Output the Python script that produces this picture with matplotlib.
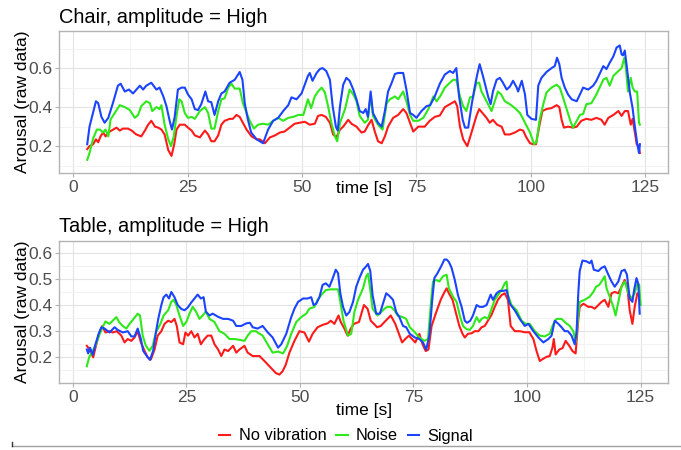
import matplotlib
matplotlib.use("Agg")
import matplotlib.pyplot as plt
from matplotlib.lines import Line2D
from matplotlib.ticker import MultipleLocator, FixedLocator

plt.rcParams["font.family"] = ["Liberation Sans", "DejaVu Sans"]

# ---- Chair panel ----
chair_t_none = [3.1, 3.6, 4.4, 5.0, 5.5, 6.0, 6.6, 7.1, 7.7, 8.4, 9.5, 10.2, 10.9, 12.0, 12.8, 13.8, 14.9, 15.7,
                16.4, 17.1, 17.9, 18.6, 19.3, 20.0, 20.8, 21.5, 22.1, 22.6, 23.3, 24.4, 25.1, 25.9, 26.6, 27.7,
                28.8, 29.5, 30.2, 30.9, 31.7, 32.4, 33.1, 34.2, 34.9, 35.7, 36.4, 37.1, 37.9, 39.0, 40.1, 40.8,
                41.9, 43.0, 44.1, 45.2, 46.2, 47.3, 48.4, 49.5, 50.6, 51.7, 52.8, 53.5, 54.3, 55.2, 56.1, 56.8,
                57.5, 58.3, 59.0, 60.1, 60.8, 61.9, 63.0, 63.7, 64.5, 65.2, 65.9, 66.6, 67.4, 68.1, 68.8, 69.9,
                71.0, 72.1, 72.8, 73.6, 74.3, 75.4, 76.8, 77.9, 79.0, 80.1, 81.2, 82.3, 83.4, 83.9, 84.5, 85.2,
                86.1, 86.7, 87.4, 88.1, 88.7, 89.4, 90.3, 91.0, 91.7, 92.6, 93.6, 94.3, 95.4, 96.5, 97.6, 98.3,
                99.0, 99.8, 100.5, 101.1, 101.8, 102.5, 103.4, 104.5, 105.6, 106.2, 106.7, 107.2, 108.1, 109.2,
                110.0, 111.0, 112.1, 113.2, 114.3, 115.4, 116.1, 116.9, 118.0, 119.1, 119.8, 120.5, 121.2, 121.8,
                122.2, 122.7, 123.1, 123.5, 123.8]
chair_v_none = [0.185, 0.20, 0.21, 0.235, 0.22, 0.25, 0.27, 0.25, 0.27, 0.28, 0.295, 0.28, 0.29, 0.29, 0.28, 0.26,
                0.25, 0.28, 0.31, 0.33, 0.30, 0.295, 0.285, 0.26, 0.18, 0.15, 0.21, 0.285, 0.31, 0.31, 0.295, 0.28,
                0.255, 0.245, 0.28, 0.26, 0.225, 0.225, 0.255, 0.31, 0.33, 0.34, 0.34, 0.36, 0.35, 0.32, 0.285,
                0.25, 0.235, 0.235, 0.215, 0.245, 0.255, 0.27, 0.275, 0.295, 0.315, 0.32, 0.325, 0.31, 0.315,
                0.355, 0.36, 0.35, 0.32, 0.26, 0.245, 0.285, 0.30, 0.335, 0.315, 0.30, 0.27, 0.275, 0.31, 0.335,
                0.275, 0.225, 0.215, 0.25, 0.30, 0.345, 0.36, 0.39, 0.37, 0.32, 0.275, 0.30, 0.30, 0.33, 0.35,
                0.357, 0.40, 0.415, 0.43, 0.405, 0.30, 0.235, 0.20, 0.245, 0.30, 0.355, 0.39, 0.37, 0.345, 0.32,
                0.335, 0.31, 0.30, 0.26, 0.26, 0.27, 0.285, 0.28, 0.245, 0.215, 0.21, 0.21, 0.30, 0.38, 0.39,
                0.395, 0.41, 0.40, 0.335, 0.295, 0.30, 0.295, 0.30, 0.33, 0.34, 0.335, 0.345, 0.335, 0.31, 0.345,
                0.36, 0.38, 0.355, 0.38, 0.38, 0.31, 0.34, 0.27, 0.21, 0.20, 0.165]

chair_t_noise = [3.1, 3.6, 4.4, 5.2, 5.9, 6.5, 7.1, 7.7, 8.2, 9.1, 10.2, 11.3, 12.4, 13.5, 14.2, 14.9, 16.0, 16.8,
                 17.3, 18.2, 18.9, 19.3, 20.0, 20.8, 21.4, 22.0, 22.6, 23.2, 23.7, 24.4, 25.1, 25.9, 26.6, 27.7,
                 28.8, 29.5, 30.2, 30.9, 31.7, 32.4, 33.1, 33.9, 34.6, 35.3, 36.4, 37.1, 37.9, 38.6, 39.5, 40.4,
                 41.5, 42.6, 43.7, 44.8, 45.9, 47.0, 48.1, 49.2, 50.3, 51.3, 52.0, 52.8, 53.5, 54.3, 55.0, 55.7,
                 56.4, 57.2, 57.7, 58.3, 59.4, 60.4, 61.2, 61.9, 62.6, 63.7, 64.4, 65.0, 65.5, 66.6, 67.6, 68.5,
                 69.2, 70.3, 71.0, 72.1, 72.8, 73.6, 74.3, 75.4, 76.5, 77.6, 78.7, 79.4, 80.3, 81.2, 82.3, 83.0,
                 83.7, 84.5, 85.2, 85.9, 86.7, 87.4, 88.1, 88.7, 89.2, 90.3, 91.4, 92.1, 92.8, 93.5, 94.3, 95.4,
                 96.5, 97.6, 98.7, 99.8, 100.7, 101.2, 101.9, 102.7, 103.4, 104.5, 105.6, 106.3, 107.0, 107.8,
                 108.6, 109.2, 110.0, 110.7, 111.4, 112.1, 113.2, 114.3, 115.0, 115.8, 116.5, 117.2, 118.0, 119.1,
                 119.8, 120.4, 120.7, 121.2, 121.8, 122.2, 122.7, 123.2, 123.6, 123.8]
chair_v_noise = [0.13, 0.165, 0.24, 0.285, 0.285, 0.27, 0.285, 0.25, 0.337, 0.37, 0.41, 0.40, 0.385, 0.345, 0.36,
                 0.405, 0.43, 0.42, 0.38, 0.40, 0.39, 0.41, 0.31, 0.235, 0.20, 0.25, 0.355, 0.44, 0.43, 0.37, 0.345,
                 0.35, 0.34, 0.38, 0.40, 0.37, 0.29, 0.29, 0.38, 0.44, 0.445, 0.50, 0.52, 0.495, 0.495, 0.42, 0.37,
                 0.33, 0.29, 0.31, 0.315, 0.31, 0.33, 0.345, 0.33, 0.345, 0.35, 0.36, 0.36, 0.44, 0.395, 0.455,
                 0.48, 0.50, 0.475, 0.405, 0.32, 0.25, 0.225, 0.32, 0.39, 0.49, 0.465, 0.43, 0.355, 0.32, 0.335,
                 0.465, 0.355, 0.31, 0.285, 0.42, 0.44, 0.455, 0.44, 0.48, 0.43, 0.36, 0.33, 0.33, 0.345, 0.39,
                 0.455, 0.43, 0.46, 0.50, 0.525, 0.54, 0.54, 0.455, 0.405, 0.38, 0.45, 0.455, 0.525, 0.525, 0.48,
                 0.43, 0.38, 0.43, 0.48, 0.465, 0.43, 0.415, 0.395, 0.37, 0.32, 0.27, 0.21, 0.22, 0.335, 0.415,
                 0.475, 0.50, 0.515, 0.50, 0.45, 0.39, 0.33, 0.295, 0.33, 0.36, 0.365, 0.415, 0.42, 0.465, 0.50,
                 0.54, 0.55, 0.51, 0.56, 0.585, 0.60, 0.653, 0.61, 0.48, 0.55, 0.50, 0.48, 0.48, 0.32, 0.31]

chair_t_signal = [3.1, 3.6, 5.0, 5.5, 6.2, 6.9, 7.7, 8.7, 9.8, 10.4, 11.3, 12.2, 13.1, 14.6, 15.3, 16.0, 17.1, 18.2,
                  18.9, 19.7, 20.4, 21.1, 21.6, 22.2, 22.9, 23.7, 24.4, 25.1, 25.9, 26.6, 27.3, 28.0, 28.9, 29.5,
                  30.2, 30.9, 31.7, 32.4, 33.1, 34.2, 35.3, 36.4, 37.0, 37.5, 38.2, 38.9, 40.1, 41.5, 42.6, 43.7,
                  44.8, 45.9, 47.0, 47.7, 48.8, 49.9, 50.6, 51.3, 51.7, 52.3, 53.2, 53.9, 54.5, 55.3, 56.1, 56.7,
                  57.4, 57.8, 58.3, 59.0, 59.7, 60.4, 61.2, 61.9, 62.6, 63.4, 63.9, 64.4, 65.0, 65.5, 66.6, 67.4,
                  68.1, 68.8, 69.6, 70.3, 71.0, 72.1, 72.8, 73.6, 74.3, 75.0, 76.1, 77.2, 78.0, 79.0, 80.1, 81.2,
                  82.3, 83.0, 83.7, 84.3, 85.1, 85.6, 86.3, 87.0, 87.7, 88.3, 88.8, 89.4, 89.9, 90.7, 91.2, 91.7,
                  92.5, 93.2, 93.9, 94.7, 95.4, 96.1, 96.9, 97.2, 98.0, 98.7, 99.2, 100.1, 101.1, 101.6, 102.3,
                  103.4, 104.5, 105.2, 105.7, 106.2, 106.7, 107.4, 108.1, 108.9, 110.0, 110.7, 111.4, 112.5, 113.6,
                  114.3, 115.0, 115.8, 116.5, 117.2, 118.0, 118.7, 119.4, 119.8, 120.1, 120.5, 121.0, 121.6, 122.2,
                  122.7, 123.2, 123.6, 123.8]
chair_v_signal = [0.21, 0.30, 0.43, 0.42, 0.35, 0.32, 0.345, 0.42, 0.51, 0.52, 0.48, 0.49, 0.47, 0.51, 0.49, 0.51,
                  0.525, 0.49, 0.50, 0.456, 0.405, 0.33, 0.285, 0.35, 0.49, 0.50, 0.50, 0.465, 0.44, 0.39, 0.385,
                  0.415, 0.48, 0.43, 0.425, 0.36, 0.43, 0.47, 0.48, 0.525, 0.54, 0.58, 0.54, 0.42, 0.335, 0.27,
                  0.235, 0.215, 0.285, 0.33, 0.345, 0.38, 0.41, 0.45, 0.44, 0.47, 0.515, 0.56, 0.575, 0.535, 0.575,
                  0.595, 0.60, 0.585, 0.54, 0.405, 0.30, 0.28, 0.405, 0.515, 0.55, 0.535, 0.49, 0.44, 0.38, 0.37,
                  0.39, 0.35, 0.48, 0.37, 0.32, 0.30, 0.38, 0.48, 0.525, 0.57, 0.575, 0.575, 0.49, 0.37, 0.36,
                  0.345, 0.38, 0.405, 0.41, 0.455, 0.52, 0.567, 0.585, 0.575, 0.60, 0.455, 0.335, 0.295, 0.295,
                  0.405, 0.50, 0.57, 0.62, 0.57, 0.525, 0.45, 0.415, 0.48, 0.54, 0.55, 0.525, 0.49, 0.505, 0.535,
                  0.50, 0.48, 0.535, 0.465, 0.36, 0.34, 0.335, 0.51, 0.55, 0.58, 0.60, 0.61, 0.653, 0.62, 0.55,
                  0.50, 0.465, 0.44, 0.43, 0.465, 0.50, 0.49, 0.51, 0.535, 0.57, 0.61, 0.595, 0.627, 0.66, 0.705,
                  0.716, 0.67, 0.665, 0.69, 0.595, 0.475, 0.395, 0.30, 0.215, 0.165, 0.21]

# ---- Table panel ----
table_t_none = [3.1, 3.5, 4.0, 4.5, 5.1, 5.8, 6.5, 7.2, 8.1, 8.8, 9.7, 10.7, 11.4, 12.1, 12.9, 13.6, 14.3, 15.0,
                15.8, 16.5, 17.2, 18.0, 18.7, 19.5, 20.2, 21.0, 21.7, 22.4, 22.9, 23.5, 24.3, 24.8, 25.4, 26.1,
                26.8, 27.5, 28.2, 29.0, 29.7, 30.5, 31.2, 32.0, 32.7, 33.4, 34.2, 35.3, 36.0, 36.7, 37.8, 38.5,
                39.6, 40.7, 41.1, 42.2, 43.3, 44.0, 44.7, 45.5, 46.2, 46.9, 47.7, 48.8, 49.9, 51.0, 52.0, 52.8,
                53.9, 55.0, 56.1, 56.8, 57.6, 58.5, 59.0, 59.8, 60.5, 61.2, 61.9, 63.0, 64.1, 64.9, 65.6, 66.3,
                67.0, 67.8, 68.9, 70.0, 71.0, 71.8, 72.5, 73.2, 74.0, 74.7, 75.4, 76.3, 77.0, 77.7, 78.3, 79.0,
                79.9, 81.0, 81.7, 82.3, 82.8, 83.6, 84.3, 85.1, 85.8, 86.3, 87.0, 87.8, 88.5, 89.3, 90.0, 90.7,
                91.4, 92.2, 92.9, 93.6, 94.4, 95.1, 95.8, 96.4, 97.3, 98.4, 99.5, 100.5, 101.4, 102.1, 102.8,
                103.6, 104.3, 105.0, 105.6, 105.9, 106.3, 107.1, 107.8, 108.5, 109.3, 110.0, 110.7, 111.3, 111.6,
                112.4, 113.5, 114.2, 114.9, 115.7, 116.4, 117.1, 117.9, 118.6, 119.3, 120.1, 120.8, 121.5, 122.1,
                122.6, 123.2, 123.7, 124.3, 124.6]
table_v_none = [0.244, 0.235, 0.218, 0.20, 0.244, 0.29, 0.32, 0.295, 0.30, 0.295, 0.30, 0.283, 0.257, 0.27, 0.263,
                0.276, 0.30, 0.257, 0.225, 0.20, 0.192, 0.23, 0.283, 0.30, 0.328, 0.34, 0.335, 0.347, 0.32, 0.257,
                0.25, 0.295, 0.283, 0.30, 0.276, 0.29, 0.25, 0.27, 0.283, 0.283, 0.25, 0.23, 0.205, 0.23, 0.224,
                0.244, 0.218, 0.23, 0.244, 0.218, 0.205, 0.205, 0.205, 0.186, 0.166, 0.153, 0.14, 0.134, 0.147,
                0.172, 0.218, 0.263, 0.30, 0.295, 0.26, 0.29, 0.315, 0.324, 0.33, 0.34, 0.328, 0.36, 0.335, 0.31,
                0.283, 0.31, 0.328, 0.335, 0.40, 0.386, 0.34, 0.328, 0.315, 0.32, 0.34, 0.36, 0.328, 0.29, 0.257,
                0.27, 0.283, 0.27, 0.257, 0.29, 0.25, 0.224, 0.23, 0.32, 0.367, 0.42, 0.445, 0.464, 0.445, 0.42,
                0.373, 0.32, 0.29, 0.276, 0.29, 0.292, 0.30, 0.30, 0.315, 0.32, 0.34, 0.363, 0.393, 0.42, 0.438,
                0.445, 0.42, 0.32, 0.30, 0.30, 0.296, 0.296, 0.27, 0.224, 0.186, 0.195, 0.202, 0.205, 0.237, 0.27,
                0.211, 0.23, 0.235, 0.263, 0.244, 0.224, 0.215, 0.347, 0.393, 0.405, 0.393, 0.393, 0.386, 0.40,
                0.412, 0.42, 0.393, 0.445, 0.45, 0.445, 0.47, 0.496, 0.464, 0.38, 0.328, 0.393, 0.445, 0.438]

table_t_noise = [3.1, 3.6, 4.4, 5.0, 5.8, 6.7, 7.2, 8.1, 8.8, 9.6, 10.2, 11.0, 11.8, 12.5, 13.4, 14.3, 14.8, 15.4,
                 16.1, 16.9, 17.6, 18.3, 19.3, 20.0, 21.0, 21.7, 22.2, 22.8, 23.5, 24.3, 25.0, 25.7, 26.4, 27.2,
                 27.9, 28.6, 29.3, 30.1, 31.2, 32.3, 33.4, 34.5, 35.6, 36.7, 37.8, 38.5, 39.3, 40.3, 40.7, 41.8,
                 42.9, 44.0, 45.2, 46.3, 47.2, 48.1, 49.2, 50.3, 51.4, 52.1, 53.2, 53.9, 54.7, 55.7, 56.8, 58.4,
                 58.9, 59.6, 60.6, 61.3, 62.0, 62.8, 63.9, 64.6, 65.0, 65.5, 66.0, 67.1, 67.9, 68.6, 69.3, 70.0,
                 70.8, 71.5, 72.6, 73.4, 74.2, 75.3, 76.3, 77.4, 78.2, 78.9, 79.3, 80.0, 80.7, 81.5, 82.3, 82.8,
                 83.7, 84.5, 85.2, 85.9, 86.7, 87.4, 88.1, 88.9, 89.5, 90.0, 90.7, 91.4, 92.2, 92.9, 93.6, 94.4,
                 95.1, 95.5, 95.8, 96.6, 97.7, 98.8, 99.7, 100.6, 101.7, 102.8, 103.9, 105.0, 105.8, 106.5, 107.6,
                 108.5, 109.4, 110.2, 110.7, 111.3, 111.6, 112.7, 113.8, 114.6, 115.2, 115.9, 116.4, 117.1, 117.5,
                 118.2, 119.0, 119.5, 120.1, 120.8, 121.5, 122.3, 123.0, 123.7, 124.3, 124.7, 125.0]
table_v_noise = [0.166, 0.20, 0.225, 0.245, 0.283, 0.32, 0.337, 0.328, 0.34, 0.354, 0.335, 0.32, 0.31, 0.328,
                 0.347, 0.367, 0.36, 0.283, 0.244, 0.225, 0.244, 0.295, 0.328, 0.36, 0.38, 0.412, 0.42, 0.40, 0.36,
                 0.32, 0.335, 0.367, 0.393, 0.373, 0.347, 0.36, 0.375, 0.347, 0.335, 0.30, 0.29, 0.27, 0.27, 0.267,
                 0.263, 0.283, 0.30, 0.30, 0.295, 0.283, 0.25, 0.218, 0.222, 0.215, 0.244, 0.29, 0.335, 0.354,
                 0.367, 0.386, 0.393, 0.42, 0.438, 0.457, 0.46, 0.46, 0.412, 0.34, 0.283, 0.29, 0.373, 0.42, 0.464,
                 0.51, 0.52, 0.457, 0.386, 0.36, 0.373, 0.386, 0.393, 0.393, 0.38, 0.36, 0.354, 0.347, 0.315, 0.296,
                 0.276, 0.263, 0.27, 0.42, 0.49, 0.496, 0.49, 0.51, 0.516, 0.464, 0.432, 0.412, 0.36, 0.32, 0.308,
                 0.305, 0.32, 0.354, 0.335, 0.347, 0.354, 0.347, 0.386, 0.42, 0.438, 0.457, 0.483, 0.49, 0.438,
                 0.40, 0.38, 0.34, 0.328, 0.328, 0.30, 0.283, 0.28, 0.29, 0.328, 0.347, 0.347, 0.332, 0.32, 0.30,
                 0.257, 0.36, 0.412, 0.42, 0.432, 0.45, 0.47, 0.477, 0.49, 0.51, 0.464, 0.432, 0.393, 0.36, 0.412,
                 0.47, 0.49, 0.445, 0.425, 0.445, 0.483, 0.477, 0.40]

table_t_signal = [3.1, 3.4, 3.8, 4.4, 5.0, 5.7, 6.3, 7.0, 8.1, 9.2, 9.9, 11.0, 12.1, 12.9, 13.6, 14.3, 15.0, 15.5,
                  16.3, 17.0, 17.7, 18.3, 18.8, 19.5, 20.0, 20.6, 21.2, 21.7, 22.4, 23.1, 23.9, 24.6, 25.3, 26.1,
                  26.8, 27.5, 28.2, 28.8, 29.3, 30.1, 30.8, 32.0, 33.1, 34.2, 35.3, 36.0, 37.1, 38.2, 39.0, 39.6,
                  40.7, 41.8, 42.9, 44.0, 45.2, 45.9, 47.0, 48.1, 48.8, 49.6, 50.7, 51.7, 52.5, 53.0, 53.6, 54.3,
                  55.0, 55.7, 56.5, 57.1, 57.9, 58.4, 58.9, 59.5, 60.2, 60.9, 61.7, 62.4, 63.1, 63.9, 64.6, 65.0,
                  65.5, 66.0, 66.8, 67.6, 68.2, 69.0, 69.7, 70.5, 71.2, 71.9, 72.7, 73.4, 74.2, 75.3, 76.3, 77.1,
                  77.8, 78.5, 79.1, 79.6, 80.3, 81.1, 81.8, 82.3, 82.8, 83.4, 84.1, 84.8, 85.6, 86.3, 86.8, 87.5,
                  88.1, 88.9, 89.6, 90.3, 91.1, 92.0, 92.5, 93.3, 94.0, 94.7, 95.5, 96.2, 97.3, 98.4, 99.5, 100.3,
                  101.4, 102.5, 103.6, 104.7, 105.4, 106.1, 106.9, 107.6, 108.3, 109.0, 109.8, 110.5, 110.9, 111.3,
                  111.6, 112.2, 113.1, 113.8, 114.2, 114.7, 115.7, 116.4, 117.1, 117.9, 118.6, 119.3, 120.1, 120.8,
                  121.5, 122.0, 122.6, 123.2, 123.6, 124.1, 124.5, 124.8]
table_v_signal = [0.23, 0.215, 0.237, 0.21, 0.25, 0.29, 0.315, 0.31, 0.295, 0.315, 0.305, 0.295, 0.30, 0.28,
                  0.28, 0.31, 0.27, 0.225, 0.205, 0.19, 0.225, 0.295, 0.345, 0.40, 0.43, 0.44, 0.425, 0.45, 0.43,
                  0.40, 0.385, 0.38, 0.39, 0.41, 0.425, 0.44, 0.425, 0.43, 0.375, 0.36, 0.367, 0.355, 0.347, 0.347,
                  0.34, 0.32, 0.32, 0.33, 0.332, 0.315, 0.31, 0.32, 0.296, 0.276, 0.237, 0.25, 0.29, 0.354, 0.386,
                  0.412, 0.425, 0.425, 0.43, 0.40, 0.405, 0.43, 0.477, 0.483, 0.47, 0.496, 0.535, 0.522, 0.445,
                  0.393, 0.36, 0.373, 0.412, 0.47, 0.503, 0.535, 0.548, 0.557, 0.53, 0.438, 0.367, 0.367, 0.40,
                  0.445, 0.435, 0.42, 0.373, 0.354, 0.32, 0.315, 0.29, 0.276, 0.27, 0.257, 0.23, 0.283, 0.412,
                  0.503, 0.522, 0.548, 0.574, 0.574, 0.565, 0.542, 0.496, 0.438, 0.393, 0.34, 0.332, 0.34, 0.36,
                  0.40, 0.393, 0.393, 0.40, 0.44, 0.42, 0.445, 0.454, 0.454, 0.457, 0.405, 0.38, 0.347, 0.32, 0.328,
                  0.30, 0.276, 0.257, 0.27, 0.283, 0.34, 0.328, 0.315, 0.30, 0.30, 0.283, 0.25, 0.295, 0.45, 0.53,
                  0.57, 0.567, 0.56, 0.57, 0.535, 0.53, 0.542, 0.548, 0.516, 0.49, 0.47, 0.49, 0.53, 0.535, 0.516,
                  0.425, 0.412, 0.46, 0.503, 0.48, 0.367]

legend_labels = ["No vibration", "Noise", "Signal"]
line_colors = ["#FF1A1A", "#2EE81A", "#1A44FF"]


def style_panel(ax, xlim, ylim, yticks, yminor):
    ax.set_xlim(*xlim)
    ax.set_ylim(*ylim)
    ax.xaxis.set_major_locator(FixedLocator([0, 25, 50, 75, 100, 125]))
    ax.xaxis.set_minor_locator(MultipleLocator(12.5))
    ax.yaxis.set_major_locator(FixedLocator(yticks))
    ax.yaxis.set_minor_locator(FixedLocator(yminor))
    ax.grid(which="major", color="#E3E3E3", lw=0.8)
    ax.grid(which="minor", color="#F0F0F0", lw=0.6)
    ax.set_axisbelow(True)
    for s in ax.spines.values():
        s.set_color("#B3B3B3")
        s.set_linewidth(1.0)
    ax.tick_params(which="major", length=3, width=0.8, color="#B3B3B3",
                   labelsize=12.5, labelcolor="#4D4D4D", pad=2)
    ax.tick_params(which="minor", length=0)


fig = plt.figure(figsize=(6.81, 4.5), dpi=100)
ax1 = fig.add_axes([59.3 / 681, 1 - 173.3 / 450, 609 / 681, 142.3 / 450])
ax2 = fig.add_axes([59.3 / 681, 1 - 382.7 / 450, 609 / 681, 142.0 / 450])

chair = [(chair_t_none, chair_v_none), (chair_t_noise, chair_v_noise), (chair_t_signal, chair_v_signal)]
table = [(table_t_none, table_v_none), (table_t_noise, table_v_noise), (table_t_signal, table_v_signal)]

for (t, v), c in zip(chair, line_colors):
    ax1.plot(t, v, color=c, lw=1.5)
for (t, v), c in zip(table, line_colors):
    ax2.plot(t, v, color=c, lw=1.5)

style_panel(ax1, (-3.0, 130.0), (0.061, 0.79), [0.2, 0.4, 0.6], [0.1, 0.3, 0.5, 0.7])
ax1.set_yticklabels(["0.2", "0.4", "0.6"])
style_panel(ax2, (-2.96, 131.1), (0.103, 0.646), [0.2, 0.3, 0.4, 0.5, 0.6],
            [0.15, 0.25, 0.35, 0.45, 0.55, 0.65])
ax2.set_yticklabels(["0.2", "0.3", "0.4", "0.5", "0.6"])

fig.text(59.3 / 681, 1 - 23 / 450, "Chair, amplitude = High", fontsize=14.4, va="baseline", ha="left")
fig.text(59.3 / 681, 1 - 232 / 450, "Table, amplitude = High", fontsize=14.4, va="baseline", ha="left")

for yc in (101.5, 311.7):
    fig.text(23 / 681, 1 - yc / 450, "Arousal (raw data)", fontsize=12.5, rotation=90,
             ha="center", va="center")
for yc in (188, 410):
    fig.text(363.8 / 681, 1 - yc / 450, "time [s]", fontsize=12.5, ha="center", va="center")

handles = [Line2D([], [], color=c, lw=1.5) for c in line_colors]
fig.legend(handles, legend_labels, loc="center", bbox_to_anchor=(346 / 681, 1 - 436 / 450), ncol=3,
           frameon=False, fontsize=11.8, handlelength=0.7, handletextpad=0.5, columnspacing=0.6)

fig.add_artist(Line2D([12 / 681, 1.0], [1 - 445.5 / 450, 1 - 445.5 / 450], color="#A0A0A0", lw=1.0))
fig.add_artist(Line2D([12 / 681, 12 / 681], [1 - 445.5 / 450, 1 - 442 / 450], color="#333333", lw=1.0))

fig.savefig("out.png", dpi=100)
